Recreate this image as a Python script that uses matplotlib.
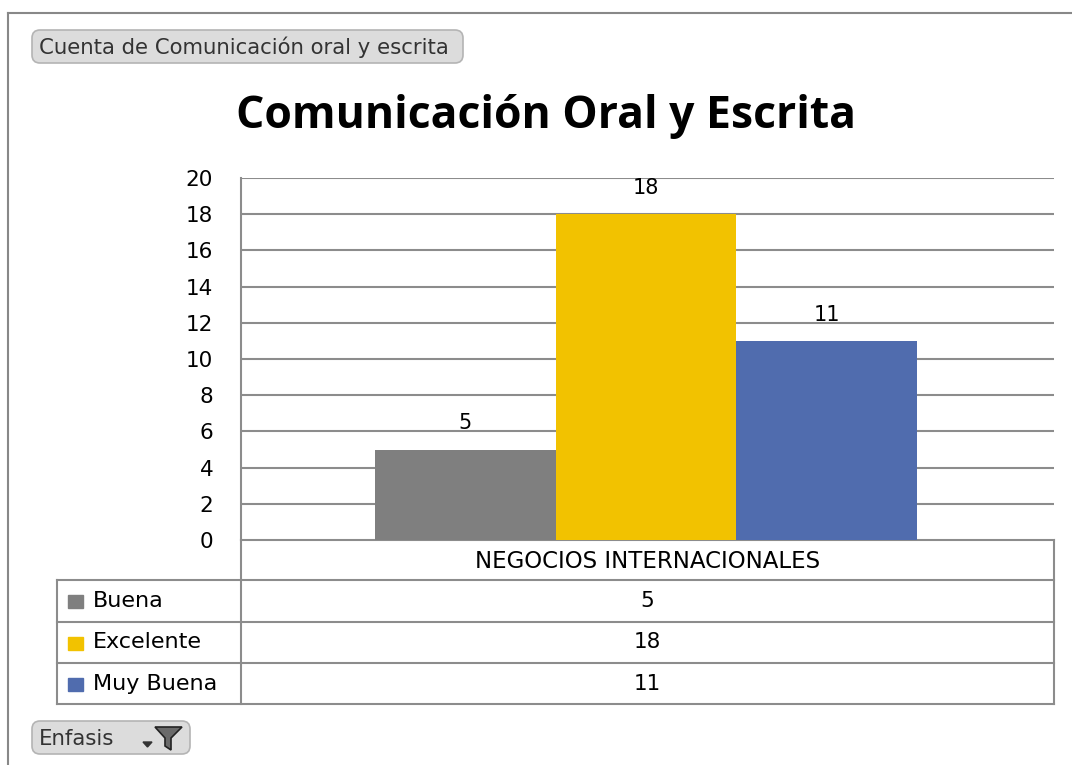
import matplotlib
matplotlib.use('Agg')
import matplotlib.pyplot as plt
from matplotlib.patches import FancyBboxPatch, Polygon, Rectangle

# data
categoria = 'NEGOCIOS INTERNACIONALES'
series = ['Buena', 'Excelente', 'Muy Buena']
valores = [5, 18, 11]
colores = ['#7f7f7f', '#f2c200', '#506cae']
yticks = list(range(0, 21, 2))

W, H = 1072, 765
fig = plt.figure(figsize=(W / 100, H / 100), dpi=100)

# overlay in pixel coordinates for frame, buttons and table
deco = fig.add_axes([0, 0, 1, 1])
deco.set_xlim(0, W)
deco.set_ylim(H, 0)
deco.axis('off')

gris = '#8c8c8c'
fuente = 'DejaVu Sans'
deco.plot([8, W], [13, 13], color='#888888', lw=1.5)
deco.plot([8, 8], [13, H], color='#888888', lw=1.5)

# field buttons
def boton(x0, y0, w, h):
    deco.add_patch(FancyBboxPatch((x0, y0), w, h, boxstyle='round,pad=0,rounding_size=8',
                                  fc='#dcdcdc', ec='#b4b4b4', lw=1.2))

boton(32, 30, 431, 33)
deco.text(39, 47, 'Cuenta de Comunicación oral y escrita', fontsize=15.3,
          color='#333333', va='center', ha='left', family=fuente)
boton(32, 721, 158, 33)
deco.text(39, 739, 'Enfasis', fontsize=15.3, color='#333333', va='center', ha='left',
          family=fuente)
deco.add_patch(Polygon([[143, 742], [152, 742], [147.5, 747]], color='#333333'))
deco.add_patch(Polygon([[155, 727], [182, 727], [171, 738], [171, 750], [165, 746], [165, 738]],
                       fc='#6a6a6a', ec='#222222', lw=1.2))

# title
deco.text(546, 116, 'Comunicación Oral y Escrita', fontsize=32, fontweight='bold',
          family='Open Sans', ha='center', va='center', color='black')

# bar chart
x0, x1, y0, y1 = 241, 1054, 178, 540
ax = fig.add_axes([x0 / W, 1 - y1 / H, (x1 - x0) / W, (y1 - y0) / H])
posiciones = [i - (len(valores) - 1) / 2 for i in range(len(valores))]
ancho = (x1 - x0) / 180.5
ax.set_xlim(-(646 - x0) / 180.5, ancho - (646 - x0) / 180.5)
ax.set_ylim(0, 20)
ax.bar(posiciones, valores, width=1.0, color=colores, zorder=3)
for p, v in zip(posiciones, valores):
    ax.annotate(str(v), (p, v), xytext=(0, 19), textcoords='offset points',
                ha='center', va='center', fontsize=15, family=fuente)
ax.set_yticks(yticks)
ax.set_yticklabels([str(t) for t in yticks], fontsize=15.5, family=fuente)
ax.tick_params(axis='y', length=0, pad=20)
ax.set_xticks([])
ax.grid(axis='y', color=gris, lw=1.5, zorder=0)
for s in ['top', 'right', 'bottom']:
    ax.spines[s].set_visible(False)
ax.spines['left'].set_color(gris)
ax.spines['left'].set_linewidth(1.5)

# data table below the plot
filas = [540, 580, 622, 663, 704]
xl = 57
deco.plot([x0, x0], [y1, filas[-1]], color=gris, lw=1.5)
deco.plot([x1, x1], [y1, filas[-1]], color=gris, lw=1.5)
deco.plot([xl, xl], [filas[1], filas[-1]], color=gris, lw=1.5)
deco.plot([x0, x1], [filas[0], filas[0]], color=gris, lw=1.5)
for yy in filas[1:]:
    deco.plot([xl, x1], [yy, yy], color=gris, lw=1.5)
deco.text((x0 + x1) / 2, (filas[0] + filas[1]) / 2 + 1, categoria, fontsize=16.5,
          ha='center', va='center', family=fuente)
for i, (nombre, v, c) in enumerate(zip(series, valores, colores)):
    yc = (filas[i + 1] + filas[i + 2]) / 2
    deco.add_patch(Rectangle((68, yc - 6), 15, 13, color=c))
    deco.text(93, yc, nombre, fontsize=16, ha='left', va='center', family=fuente)
    deco.text((x0 + x1) / 2, yc, str(v), fontsize=15.5, ha='center', va='center',
              family=fuente)

fig.savefig('out.png', dpi=100, facecolor='white')
